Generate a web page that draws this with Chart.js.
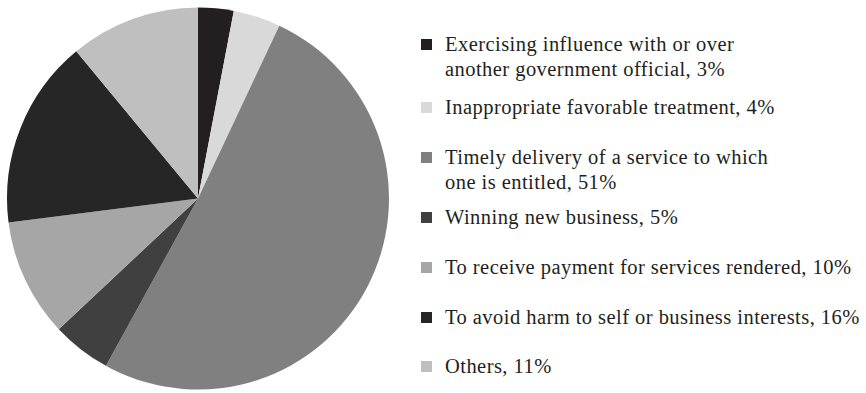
<!DOCTYPE html>
<html lang="en">
<head>
  <meta charset="UTF-8">
  <title>Reasons for facilitation payments</title>
  <style>
    body {
      margin: 0;
      background: #ffffff;
      width: 866px;
      height: 393px;
      overflow: hidden;
      position: relative;
      font-family: 'Liberation Serif', 'Times New Roman', serif;
      color: #231f20;
    }

    .chart-box {
      position: absolute;
      left: 0;
      top: 0;
      width: 396px;
      height: 393px;
    }

    .legend {
      position: absolute;
      left: 0;
      top: 0;
    }

    .legend-item {
      position: absolute;
      left: 421px;
      font-size: 20.5px;
      letter-spacing: 0.45px;
      line-height: 25px;
      white-space: nowrap;
    }

    .legend-item .swatch {
      position: absolute;
      left: 0;
      top: 7px;
      width: 11px;
      height: 11px;
    }

    .legend-item .label {
      margin-left: 24px;
    }
  </style>
</head>
<body>
  <div class="chart-box">
    <canvas id="pieChart"></canvas>
  </div>
  <div class="legend" id="legend"></div>
  <script src="https://cdn.jsdelivr.net/npm/chart.js"></script>
  <script>
    // Categories (line breaks as in the printed legend)
    const categories = [
      ['Exercising influence with or over', 'another government official'],
      ['Inappropriate favorable treatment'],
      ['Timely delivery of a service to which', 'one is entitled'],
      ['Winning new business'],
      ['To receive payment for services rendered'],
      ['To avoid harm to self or business interests'],
      ['Others']
    ];

    // Shares in percent
    const shares = [3, 4, 51, 5, 10, 16, 11];

    // Grey tones of the slices
    const sliceColors = ['#231f20', '#d9d9d9', '#808080', '#404040', '#a6a6a6', '#262626', '#bfbfbf'];

    // Vertical position of each legend row (top of first line)
    const legendTops = [32, 95, 145, 205, 255, 305, 354];

    new Chart(document.getElementById('pieChart'), {
      type: 'pie',
      data: {
        labels: categories.map(c => c.join(' ')),
        datasets: [{
          data: shares,
          backgroundColor: sliceColors,
          borderWidth: 0
        }]
      },
      options: {
        responsive: true,
        maintainAspectRatio: false,
        animation: false,
        layout: {
          padding: { top: 7, bottom: 3, left: 7, right: 7 }
        },
        plugins: {
          legend: { display: false },
          tooltip: { enabled: false }
        }
      }
    });

    // HTML legend built from the same arrays
    const legend = document.getElementById('legend');
    categories.forEach((lines, i) => {
      const item = document.createElement('div');
      item.className = 'legend-item';
      item.style.top = legendTops[i] + 'px';

      const swatch = document.createElement('span');
      swatch.className = 'swatch';
      swatch.style.background = sliceColors[i];
      item.appendChild(swatch);

      const label = document.createElement('div');
      label.className = 'label';
      lines.forEach((line, j) => {
        const row = document.createElement('div');
        row.textContent = j === lines.length - 1 ? line + ', ' + shares[i] + '%' : line;
        label.appendChild(row);
      });
      item.appendChild(label);
      legend.appendChild(item);
    });
  </script>
</body>
</html>
